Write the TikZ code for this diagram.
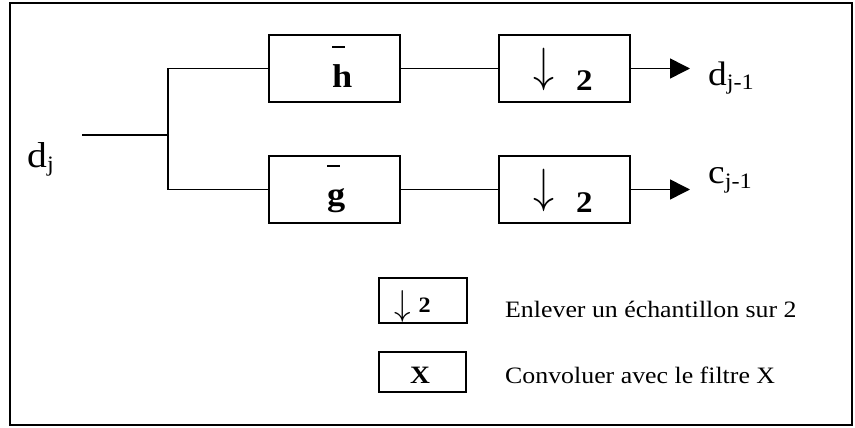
\documentclass[tikz,border=0pt]{standalone}
\usepackage{fontspec}
\setmainfont{Liberation Serif}[FakeStretch=1.1]
\usetikzlibrary{arrows.meta}
\newcommand\barred[2]{\makebox[0pt][l]{\raisebox{#2}{\rule{13pt}{1.6pt}}}\textbf{#1}}
\newcommand\lowtxt[1]{\raisebox{-5pt}{\fontsize{22}{22}\selectfont #1}}
\newcommand\dnarrow[3]{{\normalsize\raisebox{#3}{\scalebox{#1}[#2]{$\downarrow$}}}}
\tikzset{
  filt/.style={draw, line width=2pt, minimum width=131pt, minimum height=67pt, inner sep=0pt},
  legbox/.style={draw, line width=2pt, inner sep=0pt},
  wire/.style={line width=1.5pt},
  intxt/.style={anchor=base west, inner sep=0pt},
  lbl/.style={anchor=base west, inner sep=0pt, font=\fontsize{34}{34}\selectfont},
  legtxt/.style={anchor=base west, inner sep=0pt, font=\fontsize{23.5}{23.5}\selectfont}
}
\begin{document}
\begin{tikzpicture}[x=1pt, y=-1pt]
\useasboundingbox (0,0) rectangle (855,428);
\draw[line width=2.5pt] (10,3) rectangle (852,425);

\node[filt] (h) at (334.5,68.5) {};
\node[filt] (g) at (334.5,189.5) {};
\node[filt] (dh) at (564.5,68.5) {};
\node[filt] (dg) at (564.5,189.5) {};
\node[intxt, font=\fontsize{33}{33}\selectfont] (ht) at (332,88) {\barred{h}{40pt}};
\node[intxt, font=\fontsize{33}{33}\selectfont] (gt) at (327,205) {\barred{g}{38pt}};
\node[intxt, font=\fontsize{30}{30}\selectfont] (dht) at (533,91) {\dnarrow{4.2}{4.8}{9.3pt}\hspace{22pt}\textbf{2}};
\node[intxt, font=\fontsize{30}{30}\selectfont] (dgt) at (533,212) {\dnarrow{4.2}{4.8}{9.3pt}\hspace{22pt}\textbf{2}};

\node[lbl, font=\fontsize{36}{36}\selectfont] (di) at (27,167) {d\lowtxt{j}};
\coordinate (in) at (82,135);
\coordinate (jn) at (168,135);
\draw[wire] (in) -- (jn);
\draw[wire] (h.west) -| (jn) |- (g.west);
\draw[wire] (h.east) -- (dh.west);
\draw[wire] (g.east) -- (dg.west);

\coordinate (oh) at (690,68.5);
\coordinate (og) at (690,189.5);
\draw[wire, -{Triangle[length=20pt,width=20pt]}] (dh.east) -- (oh);
\draw[wire, -{Triangle[length=20pt,width=20pt]}] (dg.east) -- (og);
\node[lbl] (lh) at (708,85) {d\lowtxt{j-1}};
\node[lbl] (lg) at (708,183) {c\lowtxt{j-1}};

\node[legbox, minimum width=88pt, minimum height=45pt] (k1) at (423,300.5) {};
\node[legbox, minimum width=87pt, minimum height=40pt] (k2) at (422.5,372) {};
\node[intxt, font=\fontsize{22}{22}\selectfont] (k1t) at (394,312) {\dnarrow{3.3}{3.6}{-3pt}\hspace{8pt}\textbf{2}};
\node[intxt, font=\fontsize{25}{25}\selectfont] (k2t) at (410,383) {\textbf{X}};
\node[legtxt] (t1) at (505,317) {Enlever un échantillon sur 2};
\node[legtxt] (t2) at (505,383) {Convoluer avec le filtre X};
\end{tikzpicture}
\end{document}
